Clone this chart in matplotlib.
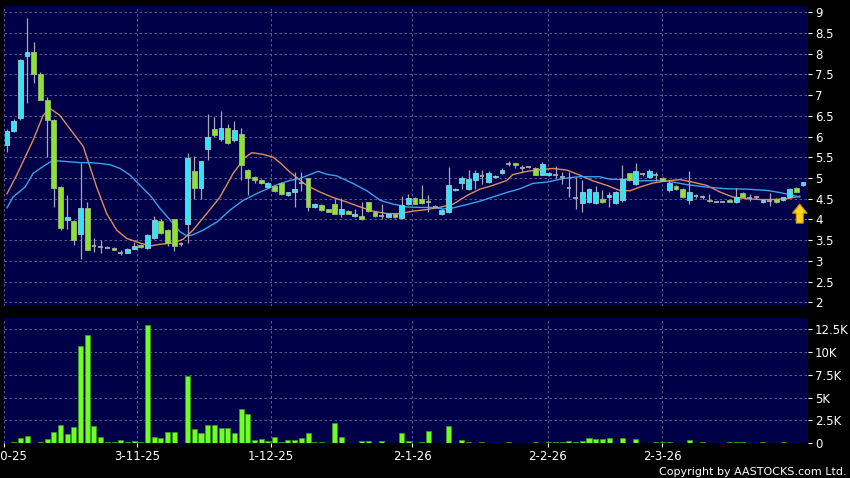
import matplotlib
matplotlib.use("Agg")
import matplotlib.pyplot as plt
from matplotlib.patches import FancyArrow
import numpy as np

# daily OHLC (index 0 = 3-10-25)
opens = [5.80, 6.13, 6.45, 7.95, 8.05, 7.52, 6.89, 6.39, 4.78, 3.98,
         3.96, 3.66, 4.28, 3.35, 3.34, 3.32, 3.32, 3.19, 3.20, 3.29,
         3.38, 3.30, 3.54, 3.96, 3.74, 4.00, 3.40, 3.88, 5.17, 4.77,
         5.69, 6.19, 5.93, 6.21, 5.91, 6.05, 5.20, 5.03, 4.95, 4.78,
         4.80, 4.88, 4.58, 4.65, 4.88, 4.99, 4.30, 4.35, 4.24, 4.36,
         4.12, 4.21, 4.08, 4.08, 4.41, 4.18, 4.08, 4.05, 4.12, 4.04,
         4.36, 4.52, 4.50, 4.42, 4.30, 4.12, 4.17, 4.70, 4.88, 4.74,
         4.95, 5.04, 4.90, 5.03, 5.11, 5.33, 5.35, 5.23, 5.26, 5.25,
         5.08, 5.07, 5.06, 5.03, 4.76, 4.52, 4.39, 4.43, 4.40, 4.50,
         4.55, 4.40, 4.46, 5.11, 4.85, 5.10, 5.02, 5.08, 5.00, 4.70,
         4.80, 4.73, 4.46, 4.56, 4.54, 4.48, 4.43, 4.43, 4.48, 4.41,
         4.64, 4.52, 4.54, 4.41, 4.45, 4.50, 4.46, 4.54, 4.76, 4.82]
highs = [6.19, 6.42, 7.86, 8.85, 8.27, 7.55, 6.95, 6.42, 4.80, 4.60,
         3.98, 5.36, 4.41, 3.55, 3.50, 3.36, 3.33, 3.26, 3.30, 3.45,
         3.40, 3.65, 4.08, 4.00, 3.76, 4.02, 3.45, 5.60, 5.52, 5.42,
         6.54, 6.46, 6.61, 6.30, 6.38, 6.21, 5.22, 5.05, 4.97, 4.90,
         4.82, 4.90, 4.67, 5.15, 5.15, 5.01, 4.40, 4.37, 4.26, 4.50,
         4.52, 4.23, 4.26, 4.42, 4.43, 4.20, 4.37, 4.15, 4.14, 4.56,
         4.62, 4.54, 4.82, 4.58, 4.34, 4.24, 5.27, 4.76, 5.04, 5.19,
         5.19, 5.19, 5.17, 5.06, 5.24, 5.40, 5.37, 5.31, 5.28, 5.27,
         5.38, 5.14, 5.30, 5.15, 5.14, 5.03, 4.94, 4.76, 4.80, 4.70,
         4.65, 4.68, 5.32, 5.13, 5.35, 5.13, 5.22, 5.15, 5.02, 4.95,
         4.82, 4.75, 5.17, 4.62, 4.58, 4.62, 4.44, 4.44, 4.49, 4.77,
         4.65, 4.61, 4.56, 4.49, 4.64, 4.52, 4.55, 4.75, 4.78, 4.91]
lows = [5.63, 6.12, 6.40, 6.80, 7.29, 6.87, 5.51, 4.30, 3.75, 3.78,
        3.38, 3.05, 3.25, 3.22, 3.20, 3.30, 3.25, 3.13, 3.19, 3.28,
        3.32, 3.28, 3.52, 3.65, 3.36, 3.24, 3.35, 3.43, 4.50, 4.50,
        5.44, 5.98, 5.90, 5.82, 5.88, 4.96, 4.58, 4.88, 4.85, 4.76,
        4.67, 4.58, 4.56, 4.30, 4.69, 4.20, 4.28, 4.20, 4.17, 4.12,
        4.06, 4.12, 4.07, 3.99, 4.18, 4.06, 4.02, 4.03, 4.03, 4.02,
        4.34, 4.37, 4.38, 4.18, 4.27, 4.10, 4.15, 4.68, 4.74, 4.72,
        4.74, 4.85, 4.88, 5.01, 5.10, 5.30, 5.25, 5.15, 5.24, 5.07,
        5.06, 5.05, 5.00, 4.85, 4.54, 4.26, 4.18, 4.40, 4.38, 4.40,
        4.30, 4.36, 4.42, 4.93, 4.83, 5.05, 5.00, 4.92, 4.92, 4.65,
        4.71, 4.52, 4.38, 4.52, 4.50, 4.43, 4.42, 4.42, 4.42, 4.40,
        4.53, 4.44, 4.50, 4.40, 4.32, 4.40, 4.45, 4.53, 4.66, 4.81]
closes = [6.13, 6.37, 7.84, 8.05, 7.52, 6.89, 6.39, 4.77, 3.79, 4.06,
          3.50, 4.28, 3.27, 3.35, 3.34, 3.32, 3.26, 3.19, 3.29, 3.37,
          3.34, 3.63, 3.98, 3.68, 3.42, 3.36, 3.40, 5.49, 4.77, 5.40,
          5.99, 6.03, 6.21, 5.85, 6.17, 5.31, 5.01, 4.95, 4.88, 4.87,
          4.69, 4.61, 4.65, 4.73, 4.88, 4.30, 4.37, 4.22, 4.19, 4.14,
          4.24, 4.14, 4.14, 4.00, 4.21, 4.08, 4.08, 4.12, 4.05, 4.34,
          4.52, 4.38, 4.40, 4.42, 4.30, 4.22, 4.82, 4.74, 5.00, 4.97,
          5.13, 5.04, 5.13, 5.05, 5.19, 5.33, 5.31, 5.23, 5.26, 5.08,
          5.33, 5.12, 5.06, 5.03, 4.76, 4.52, 4.65, 4.74, 4.67, 4.42,
          4.60, 4.67, 4.98, 4.94, 5.16, 5.10, 5.17, 5.08, 4.93, 4.89,
          4.73, 4.53, 4.65, 4.56, 4.54, 4.45, 4.43, 4.43, 4.43, 4.54,
          4.54, 4.52, 4.54, 4.48, 4.45, 4.41, 4.54, 4.74, 4.67, 4.90]
volumes = [50, 140, 580, 800, 50, 140, 500, 1230, 1960, 1050,
           1780, 10590, 11820, 1850, 690, 140, 100, 330, 140, 250,
           100, 12880, 730, 580, 1200, 1200, 50, 7320, 1560, 1120,
           1960, 1960, 1710, 1640, 1160, 3710, 3200, 400, 500, 250,
           730, 100, 330, 360, 580, 1090, 140, 140, 30, 2180,
           690, 60, 30, 220, 250, 30, 220, 30, 30, 1140,
           290, 60, 100, 1360, 30, 30, 1890, 30, 360, 130,
           60, 130, 30, 30, 60, 130, 60, 30, 30, 130,
           30, 100, 100, 170, 200, 130, 200, 620, 420, 420,
           540, 60, 580, 60, 520, 30, 30, 130, 100, 130,
           60, 60, 350, 30, 100, 60, 30, 30, 130, 130,
           100, 30, 30, 130, 30, 30, 130, 30, 60, 30]

# moving average lines (x = candle index)
ma_short_x = [0, 1.45, 3.9, 5.4, 6.4, 7.9, 9.9, 11.4, 12.4, 13.4, 14.9, 16.4, 17.9,
              19.9, 21.4, 22.9, 24.8, 26.3, 27.8, 29.9, 31.8, 33.8, 35.6, 36.6, 38.3,
              39.8, 40.8, 42.3, 44.8, 46.8, 48.7, 50.8, 52.8, 54.7, 56.8, 58.7, 60.7,
              62.8, 64.7, 66.7, 68.8, 70.7, 72.6, 74.7, 75.6, 77.7, 79.7, 81.6, 83.7,
              85.6, 87.6, 89.7, 91.6, 93.1, 94.6, 96.6, 98.7, 100.6, 102.5, 104.6,
              106.6, 108.5, 110.6, 112.6, 114.5, 116.6, 118.5]
ma_short_y = [4.62, 5.07, 5.91, 6.51, 6.68, 6.51, 6.08, 5.76, 5.27, 4.78, 4.14, 3.74, 3.54,
              3.43, 3.36, 3.40, 3.43, 3.52, 3.74, 4.15, 4.53, 5.11, 5.50, 5.61, 5.57,
              5.50, 5.37, 5.14, 4.82, 4.66, 4.53, 4.42, 4.30, 4.20, 4.14, 4.14, 4.20,
              4.24, 4.29, 4.37, 4.58, 4.73, 4.82, 4.94, 5.08, 5.16, 5.20, 5.23, 5.19,
              5.07, 4.93, 4.82, 4.70, 4.69, 4.78, 4.88, 4.93, 4.96, 4.90, 4.82,
              4.66, 4.54, 4.50, 4.48, 4.48, 4.50, 4.56]
ma_long_x = [0, 0.9, 2.7, 3.9, 5.4, 6.7, 7.9, 10.9, 12.4, 13.9, 15.4, 16.9, 18.4,
             19.9, 21.4, 22.9, 24.4, 25.9, 26.9, 27.8, 29.3, 31.4, 33.3, 35.3, 37.8,
             40.4, 42.3, 43.8, 46.5, 47.8, 49.3, 51.7, 53.8, 55.8, 57.7, 59.8, 61.7,
             63.7, 65.2, 66.7, 68.8, 70.7, 72.6, 74.7, 76.7, 78.6, 80.7, 82.7, 84.2,
             85.6, 88.6, 90.1, 92.7, 94.6, 97.6, 99.6, 101.6, 104.6, 107.6, 110.6,
             113.6, 115.5, 117.5, 118.5]
ma_long_y = [4.28, 4.54, 4.78, 5.11, 5.28, 5.41, 5.41, 5.37, 5.37, 5.35, 5.32, 5.23, 5.07,
             4.82, 4.58, 4.26, 3.98, 3.70, 3.60, 3.63, 3.74, 3.94, 4.22, 4.46, 4.66,
             4.84, 4.94, 4.99, 5.16, 5.09, 5.05, 4.87, 4.69, 4.46, 4.37, 4.30, 4.29,
             4.29, 4.25, 4.28, 4.36, 4.44, 4.54, 4.65, 4.74, 4.87, 4.90, 4.97, 5.01,
             5.03, 5.03, 4.97, 4.96, 4.93, 4.94, 4.90, 4.84, 4.78, 4.74, 4.73,
             4.70, 4.65, 4.58, 4.54]

date_ticks = [-0.45, 19.48, 39.4, 60.6, 80.8, 97.95]
date_labels = ["3-10-25", "3-11-25", "1-12-25", "2-1-26", "2-2-26", "2-3-26"]
price_ticks = [2, 2.5, 3, 3.5, 4, 4.5, 5, 5.5, 6, 6.5, 7, 7.5, 8, 8.5, 9]
vol_ticks = [0, 2500, 5000, 7500, 10000, 12500]
vol_labels = ["0", "2.5K", "5K", "7.5K", "10K", "12.5K"]

# arrow marker at the end
arrow_x, arrow_y0, arrow_y1 = 118.5, 3.91, 4.37

# colours
bg = "#000048"
up_col = "#33E4F4"
down_col = "#8CE42C"
wick_col = "#A8A8B0"
grid_col = "#6A6A9C"

fig = plt.figure(figsize=(8.5, 4.78), dpi=100, facecolor="black")
ax = fig.add_axes([0.0047, 0.3598, 0.946, 0.6276])
axv = fig.add_axes([0.0047, 0.0726, 0.946, 0.2615])

x = np.arange(len(opens))
o = np.array(opens); c = np.array(closes); h = np.array(highs); l = np.array(lows)

for a in (ax, axv):
    a.set_facecolor(bg)
    for s in a.spines.values():
        s.set_visible(False)
    a.set_xlim(-0.45, 119.75)
    a.set_xticks(date_ticks)
    a.grid(True, color=grid_col, linestyle=(0, (3, 3)), linewidth=0.6)
    a.set_axisbelow(True)
    a.yaxis.tick_right()
    a.tick_params(axis="y", colors="white", labelsize=8.5, length=3, width=0.8, pad=2)

# price panel
ax.set_ylim(1.91, 9.15)
ax.set_yticks(price_ticks)
ax.set_yticklabels(["%g" % t for t in price_ticks])
ax.tick_params(axis="x", length=0, labelbottom=False)

ax.plot(ma_short_x, ma_short_y, color="#E08C5C", lw=1.0, zorder=3)
ax.plot(ma_long_x, ma_long_y, color="#3CA2E8", lw=1.0, zorder=3)

w = 0.72
ax.vlines(x, l, h, color=wick_col, lw=0.9, zorder=4)
doji = np.abs(c - o) < 0.015
rising = (c > o) & ~doji
falling = (c < o) & ~doji
ax.bar(x[rising], (c - o)[rising], bottom=o[rising], width=w,
       color=up_col, edgecolor="#9CCCD4", linewidth=0.6, zorder=5)
ax.bar(x[falling], (o - c)[falling], bottom=c[falling], width=w,
       color=down_col, edgecolor="#9CB880", linewidth=0.6, zorder=5)
ax.hlines(c[doji], x[doji] - w / 2, x[doji] + w / 2, color=wick_col, lw=1.3, zorder=5)

ax.add_patch(FancyArrow(arrow_x, arrow_y0, 0, arrow_y1 - arrow_y0, width=1.05,
                        head_width=2.2, head_length=0.22, length_includes_head=True,
                        facecolor="#FFD21E", edgecolor="#C89400", linewidth=0.8, zorder=6))

# volume panel
axv.bar(x, volumes, width=0.75, color="#6EFF28", edgecolor="#3C9A14", linewidth=0.5, zorder=3)
axv.set_ylim(0, 13650)
axv.set_yticks(vol_ticks)
axv.set_yticklabels(vol_labels)
axv.set_xticklabels(date_labels)
axv.tick_params(axis="x", colors="white", labelsize=8.5, length=3, width=0.8, pad=2)

fig.text(0.996, 0.003, "Copyright by AASTOCKS.com Ltd.", color="white",
         fontsize=8, ha="right", va="bottom")

fig.savefig("out.png", dpi=100, facecolor=fig.get_facecolor())
